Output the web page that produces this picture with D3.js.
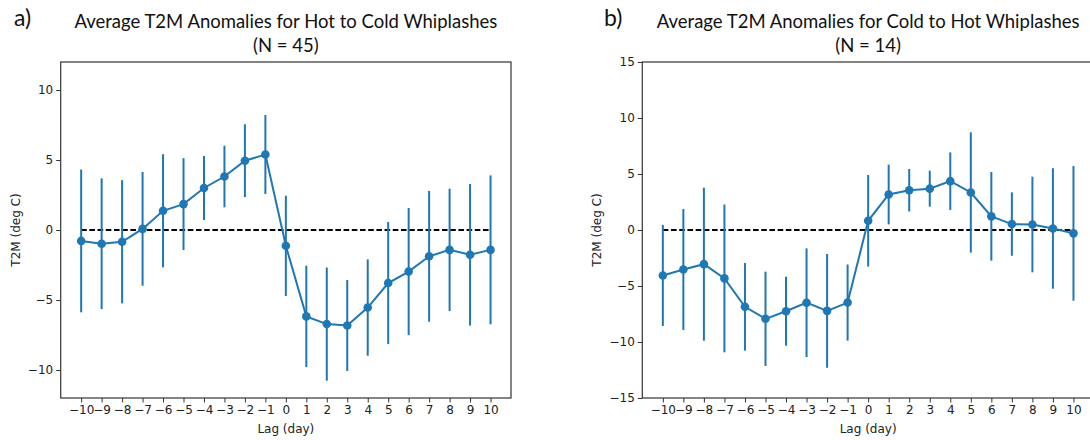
<!DOCTYPE html>
<html>
<head>
<meta charset="utf-8">
<script src="https://cdn.jsdelivr.net/npm/d3@7"></script>
<style>
  body { margin: 0; background: white; }
  svg { display: block; }
</style>
</head>
<body>
<div id="chart"></div>
<script>

// lag days on the x axis (same for both panels)
var lags = [-10, -9, -8, -7, -6, -5, -4, -3, -2, -1, 0, 1, 2, 3, 4, 5, 6, 7, 8, 9, 10];

// a) hot to cold, mean anomaly and +/- spread
var hot_cold_mean = [-0.78, -0.98, -0.84, 0.08, 1.37, 1.85, 3.0, 3.82, 4.95, 5.39, -1.13,
                     -6.17, -6.72, -6.82, -5.54, -3.79, -2.97, -1.88, -1.42, -1.77, -1.42];
var hot_cold_err  = [5.1, 4.67, 4.4, 4.06, 4.04, 3.28, 2.29, 2.2, 2.6, 2.82, 3.58,
                     3.62, 4.04, 3.25, 3.44, 4.36, 4.54, 4.67, 4.37, 5.06, 5.32];

// b) cold to hot
var cold_hot_mean = [-4.06, -3.53, -3.05, -4.32, -6.86, -7.93, -7.25, -6.49, -7.22, -6.48, 0.82,
                     3.17, 3.55, 3.69, 4.36, 3.35, 1.22, 0.53, 0.49, 0.14, -0.30];
var cold_hot_err  = [4.51, 5.4, 6.83, 6.6, 3.91, 4.21, 3.08, 4.85, 5.08, 3.4, 4.09,
                     2.67, 1.9, 1.61, 2.57, 5.37, 3.96, 2.83, 4.27, 5.38, 6.01];

var y_ticks_a = [-10, -5, 0, 5, 10];
var y_ticks_b = [-15, -10, -5, 0, 5, 10, 15];

var W = 1090, H = 440;
var blue = "#1f77b4";
var tick_font = "'DejaVu Sans', sans-serif";
var title_font = "Lato, 'Open Sans', sans-serif";

var svg = d3.select("#chart").append("svg")
            .attr("width", W)
            .attr("height", H);

// matplotlib style minus sign
var fmt = function(d){ return d < 0 ? "\u2212" + Math.abs(d) : "" + d; };

var draw_panel = function(p){
  var x = d3.scaleLinear().domain([-11, 11]).range([p.left, p.right]);
  var y = d3.scaleLinear().domain(p.ydom).range([398, 62]);
  var g = svg.append("g");

  // zero reference line (dashed)
  g.append("line")
    .attr("x1", x(lags[0])).attr("x2", x(lags[lags.length-1]))
    .attr("y1", y(0)).attr("y2", y(0))
    .attr("stroke", "black")
    .attr("stroke-width", 1.8)
    .attr("stroke-dasharray", "5.6,2.6");

  // error bars
  g.selectAll(".ebar").data(lags).enter().append("line")
    .attr("class", "ebar")
    .attr("x1", function(d){ return x(d); })
    .attr("x2", function(d){ return x(d); })
    .attr("y1", function(d, i){ return y(p.mean[i] + p.err[i]); })
    .attr("y2", function(d, i){ return y(p.mean[i] - p.err[i]); })
    .attr("stroke", blue)
    .attr("stroke-width", 2);

  // connecting line
  var line = d3.line()
    .x(function(d){ return x(d); })
    .y(function(d, i){ return y(p.mean[i]); });
  g.append("path").datum(lags)
    .attr("d", line)
    .attr("fill", "none")
    .attr("stroke", blue)
    .attr("stroke-width", 2);

  // markers
  g.selectAll(".dot").data(lags).enter().append("circle")
    .attr("class", "dot")
    .attr("cx", function(d){ return x(d); })
    .attr("cy", function(d, i){ return y(p.mean[i]); })
    .attr("r", 4.3)
    .attr("fill", blue);

  // axes
  var xa = g.append("g").attr("transform", "translate(0,398)")
    .call(d3.axisBottom(x).tickValues(lags).tickSize(4.5).tickPadding(3).tickFormat(fmt));
  var ya = g.append("g").attr("transform", "translate(" + p.left + ",0)")
    .call(d3.axisLeft(y).tickValues(p.yticks).tickSize(4.5).tickPadding(3).tickFormat(fmt));
  [xa, ya].forEach(function(a){
    a.select(".domain").remove();
    a.selectAll("line").attr("stroke", "#333").attr("stroke-width", 1);
    a.selectAll("text").attr("fill", "#222")
      .style("font-family", tick_font).style("font-size", "12px");
  });

  // frame
  g.append("rect")
    .attr("x", p.left).attr("y", 62)
    .attr("width", p.right - p.left).attr("height", 336)
    .attr("fill", "none").attr("stroke", "#333").attr("stroke-width", 1.2);

  // axis labels
  g.append("text")
    .attr("x", (p.left + p.right)/2).attr("y", 433)
    .attr("text-anchor", "middle")
    .style("font-family", tick_font).style("font-size", "12px").attr("fill", "#222")
    .text("Lag (day)");
  g.append("text")
    .attr("transform", "translate(" + (p.left - 41) + ",230) rotate(-90)")
    .attr("text-anchor", "middle")
    .style("font-family", tick_font).style("font-size", "12px").attr("fill", "#222")
    .text("T2M (deg C)");

  // titles
  var cx = (p.left + p.right)/2;
  g.append("text").attr("x", cx).attr("y", 28)
    .attr("text-anchor", "middle")
    .style("font-family", title_font).style("font-size", "18.5px").attr("fill", "#111")
    .text(p.title);
  g.append("text").attr("x", cx).attr("y", 52)
    .attr("text-anchor", "middle")
    .style("font-family", title_font).style("font-size", "18.5px").attr("fill", "#111")
    .text(p.subtitle);
  g.append("text").attr("x", p.tag_x).attr("y", 26)
    .style("font-family", title_font).style("font-size", "23px").attr("fill", "#111")
    .text(p.tag);
};

draw_panel({left: 60.7, right: 511, ydom: [-12, 12], yticks: y_ticks_a,
            mean: hot_cold_mean, err: hot_cold_err,
            title: "Average T2M Anomalies for Hot to Cold Whiplashes", subtitle: "(N = 45)",
            tag: "a)", tag_x: 14});

draw_panel({left: 642.3, right: 1094, ydom: [-15, 15], yticks: y_ticks_b,
            mean: cold_hot_mean, err: cold_hot_err,
            title: "Average T2M Anomalies for Cold to Hot Whiplashes", subtitle: "(N = 14)",
            tag: "b)", tag_x: 604});

</script>
</body>
</html>
